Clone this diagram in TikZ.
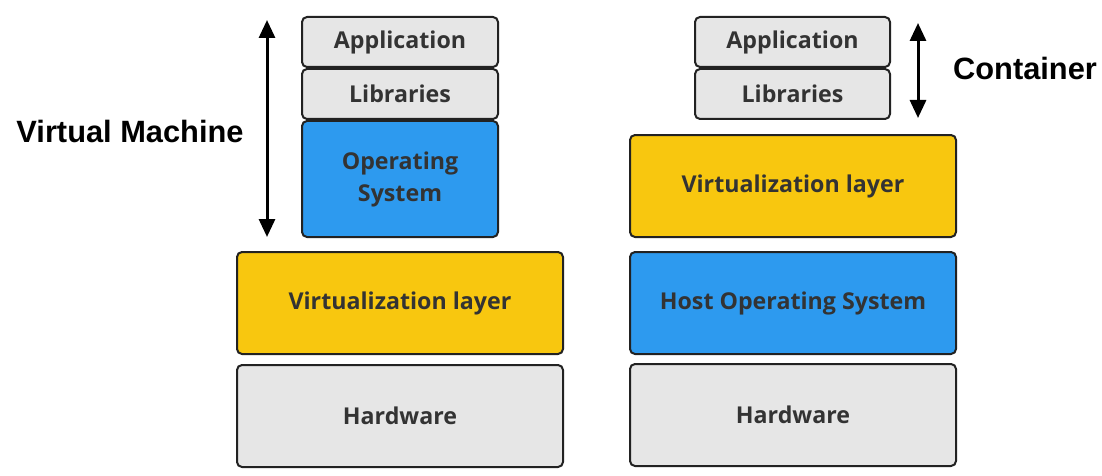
\documentclass[tikz,border=0pt]{standalone}
\usepackage{fontspec}
\setmainfont{Open Sans}
\newfontfamily\labelfont{Liberation Sans}
\usetikzlibrary{arrows.meta}
\definecolor{boxgray}{HTML}{E6E6E6}
\definecolor{boxblue}{HTML}{2D9AEF}
\definecolor{boxyellow}{HTML}{F8C70F}
\definecolor{boxline}{HTML}{222222}
\definecolor{boxtext}{HTML}{333333}
\tikzset{
	layer/.style={draw=boxline, line width=2pt, rounded corners=5pt, inner sep=0pt,
		text=boxtext, align=center, font=\fontsize{23.2}{32}\selectfont\bfseries},
	span/.style={line width=3pt, {Triangle[width=16pt,length=18pt]}-{Triangle[width=16pt,length=18pt]}},
	side/.style={font=\labelfont\fontsize{30.8}{34}\selectfont\bfseries, text=black}
}
\begin{document}
\begin{tikzpicture}[x=1pt,y=-1pt]
	\useasboundingbox (0,0) rectangle (1102,476);
	% virtual machine stack
	\node[layer, fill=boxgray, minimum width=196pt, minimum height=50pt] (appL) at (400,42) {Application};
	\node[layer, fill=boxgray, minimum width=196pt, minimum height=50pt] (libL) at (400,94) {Libraries};
	\node[layer, fill=boxblue, minimum width=196pt, minimum height=116pt] (osL) at (400,179) {Operating\\System};
	\node[layer, fill=boxyellow, minimum width=326pt, minimum height=102pt] (virtL) at (400,303) {Virtualization layer};
	\node[layer, fill=boxgray, minimum width=326pt, minimum height=102pt] (hwL) at (400,416) {Hardware};
	% container stack
	\node[layer, fill=boxgray, minimum width=195pt, minimum height=50pt] (appR) at (792.5,42) {Application};
	\node[layer, fill=boxgray, minimum width=195pt, minimum height=50pt] (libR) at (792.5,94) {Libraries};
	\node[layer, fill=boxyellow, minimum width=326pt, minimum height=102pt] (virtR) at (793,186) {Virtualization layer};
	\node[layer, fill=boxblue, minimum width=326pt, minimum height=102pt] (hostR) at (793,303) {Host Operating System};
	\node[layer, fill=boxgray, minimum width=326pt, minimum height=102pt] (hwR) at (793,415) {Hardware};
	% spans
	\coordinate (vmtop) at (267,20);
	\coordinate (vmbot) at (267,237);
	\coordinate (cttop) at (918,23);
	\coordinate (ctbot) at (918,118);
	\draw[span] (vmtop) -- (vmbot);
	\draw[span] (cttop) -- (ctbot);
	\node[side] (vmlabel) at (130,131) {Virtual Machine};
	\node[side] (ctlabel) at (1025,68) {Container};
\end{tikzpicture}
\end{document}
